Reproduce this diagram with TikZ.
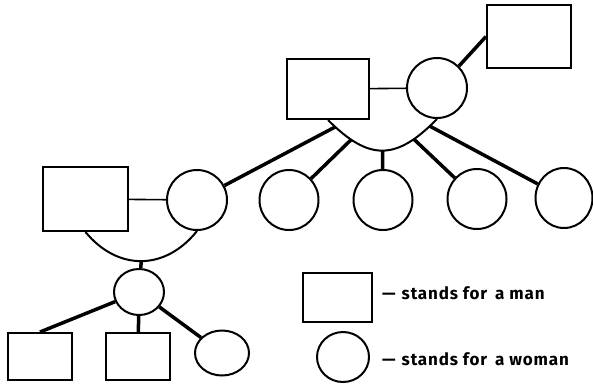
\documentclass[tikz,border=0pt]{standalone}
\usepackage{fontspec}
\setmainfont{Fira Sans}
\usetikzlibrary{shapes.geometric}

\begin{document}
\begin{tikzpicture}[x=1pt, y=-1pt,
  manbox/.style={draw, rectangle, line width=2pt, inner sep=0pt},
  womanring/.style={draw, ellipse, line width=2pt, inner sep=0pt},
  tie/.style={line width=1.6pt},
  kin/.style={line width=3.5pt},
  bow/.style={line width=2pt},
  legendtext/.style={anchor=base west, inner sep=0pt,
    font=\fontsize{17}{20}\selectfont\bfseries\addfontfeatures{LetterSpace=5}}]
\useasboundingbox (0,0) rectangle (593,384);
% top couple and the woman's relative
\node[manbox, minimum width=82pt, minimum height=60pt] (topm) at (328,89) {};
\node[womanring, minimum width=60pt, minimum height=60pt] (topw) at (437,88) {};
\node[manbox, minimum width=84pt, minimum height=63pt] (topr) at (529,36.5) {};
\draw[tie] (topm) -- (topw);
\draw[kin] (topw.45) -- (topr.west);
% their children
\node[manbox, minimum width=85pt, minimum height=64pt] (leftm) at (85.5,199) {};
\node[womanring, minimum width=60pt, minimum height=60pt] (leftw) at (197,200) {};
\node[womanring, minimum width=59pt, minimum height=60pt] (d2) at (289,200) {};
\node[womanring, minimum width=59pt, minimum height=60pt] (d3) at (383,200) {};
\node[womanring, minimum width=59pt, minimum height=60pt] (d4) at (477,199) {};
\node[womanring, minimum width=57pt, minimum height=60pt] (d5) at (564,198) {};
\draw[bow] (topm.south) .. controls +(41,41) and +(-41,42) .. (topw.south)
  coordinate[pos=.06] (t1) coordinate[pos=.2] (t2) coordinate[pos=.5] (t3)
  coordinate[pos=.8] (t4) coordinate[pos=.94] (t5);
\draw[kin] (t1) -- (leftw);
\draw[kin] (t2) -- (d2);
\draw[kin] (t3) -- (d3);
\draw[kin] (t4) -- (d4);
\draw[kin] (t5) -- (d5);
% left couple and their line
\draw[tie] (leftm) -- (leftw);
\node[womanring, minimum width=50pt, minimum height=46pt] (kid) at (139,292) {};
\draw[bow] (leftm.south) .. controls +(32,39) and +(-32,40) .. (leftw.south)
  coordinate[pos=.5] (l1);
\draw[kin] (l1) -- (kid);
\node[manbox, minimum width=64pt, minimum height=47pt] (g1) at (40,356.5) {};
\node[manbox, minimum width=64pt, minimum height=47pt] (g2) at (138,356.5) {};
\node[womanring, minimum width=54pt, minimum height=45pt] (g3) at (222,353) {};
\draw[kin] (kid) -- (g1.north);
\draw[kin] (kid) -- (g2);
\draw[kin] (kid) -- (g3);
% legend
\node[manbox, minimum width=69pt, minimum height=49pt] (keym) at (337.5,297.5) {};
\node[womanring, minimum width=52pt, minimum height=50pt] (keyw) at (343,357) {};
\node[legendtext] (keymtext) at (382,299) {---\hspace{6pt}stands for\hspace{3pt} a man};
\node[legendtext] (keywtext) at (382,365) {---\hspace{6pt}stands for\hspace{3pt} a woman};
\end{tikzpicture}
\end{document}
